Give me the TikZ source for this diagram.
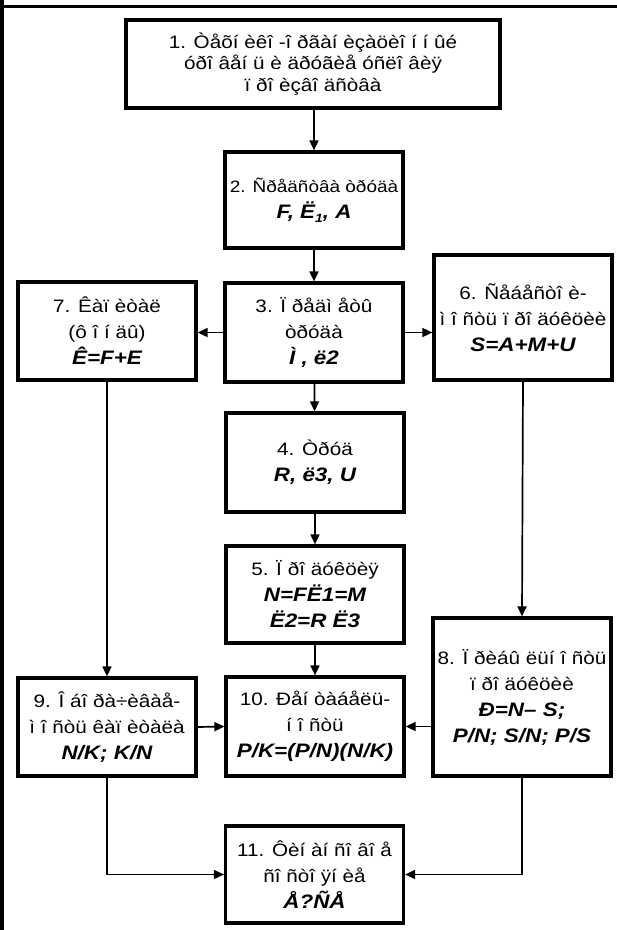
\documentclass[tikz,border=0pt]{standalone}
\usepackage{fontspec}
\setmainfont{Liberation Sans}[FakeStretch=1.15]
\usetikzlibrary{arrows.meta}
\newcommand{\bi}[1]{{\fontsize{19.5}{26}\selectfont\bfseries\itshape #1}}
\begin{document}
\begin{tikzpicture}[x=1pt,y=-1pt,
  box/.style={draw, line width=3.2pt, align=center, inner sep=0pt,
    font=\fontsize{18}{26}\selectfont, minimum width=178pt},
  arr/.style={line width=1.7pt, -{Triangle[length=10pt,width=9pt]}},
  frame/.style={line width=3.8pt}]
\useasboundingbox (0,0) rectangle (617,930);
\draw[frame] (0,6.5) -- (617,6.5);
\draw[frame] (2,0) -- (2,930);

\node[box, font=\fontsize{18}{21.5}\selectfont, minimum width=374pt, minimum height=88pt] (b1) at (313,64)
  {1. Òåõí èêî -î ðãàí èçàöèî í í ûé\\óðî âåí ü è äðóãèå óñëî âèÿ\\ï ðî èçâî äñòâà};
\node[box, minimum height=96pt] (b2) at (314,200)
  {{\fontsize{16.5}{26}\selectfont 2. Ñðåäñòâà òðóäà}\\\bi{F, Ë\raisebox{-0.35ex}{\fontsize{12}{12}\selectfont 1}, A}};
\node[box, minimum height=99pt] (b3) at (314,332.5)
  {3. Ï ðåäì åòû\\òðóäà\\\bi{Ì , ë2}};
\node[box, minimum height=98pt] (b7) at (107,331)
  {7. Êàï èòàë\\(ô î í äû)\\\bi{Ê=F+E}};
\node[box, minimum height=125pt] (b6) at (523,317.5)
  {6. Ñåáåñòî è-\\ì î ñòü ï ðî äóêöèè\\\bi{S=A+M+U}};
\node[box, minimum height=99pt] (b4) at (315,462.5)
  {4. Òðóä\\\bi{R, ë3, U}};
\node[box, minimum height=97pt] (b5) at (315,594.5)
  {5. Ï ðî äóêöèÿ\\\bi{N=FË1=M}\\\bi{Ë2=R Ë3}};
\node[box, minimum height=98pt] (b9) at (107,727)
  {9. Î áî ðà÷èâàå-\\ì î ñòü êàï èòàëà\\\bi{N/K; K/N}};
\node[box, minimum height=99pt] (b10) at (315,726.5)
  {10. Ðåí òàáåëü-\\í î ñòü\\\bi{P/K=(P/N)(N/K)}};
\node[box, minimum height=158pt] (b8) at (522,697)
  {8. Ï ðèáû ëüí î ñòü\\ï ðî äóêöèè\\\bi{Ð=N– S;}\\\bi{P/N; S/N; P/S}};
\node[box, minimum height=97pt] (b11) at (314.5,874.5)
  {11. Ôèí àí ñî âî å\\ñî ñòî ÿí èå\\\bi{Å?ÑÅ}};

\draw[arr] (b1.south -| b2.north) -- (b2.north);
\draw[arr] (b2) -- (b3);
\draw[arr] (b3) -- (b4);
\draw[arr] (b4) -- (b5);
\draw[arr] (b5) -- (b10);
\draw[arr] (b3.west) -- (b7.east |- b3.west);
\draw[arr] (b3.east) -- (b6.west |- b3.east);
\draw[arr] (b6.south) -- (b8.north);
\draw[arr] (b7.south) -- (b9.north);
\draw[arr] (b9.east) -- (b10.west);
\draw[arr] (b8.west |- b10.east) -- (b10.east);
\draw[arr] (b9.south) |- (b11.west);
\draw[arr] (b8.south) |- (b11.east);
\end{tikzpicture}
\end{document}
